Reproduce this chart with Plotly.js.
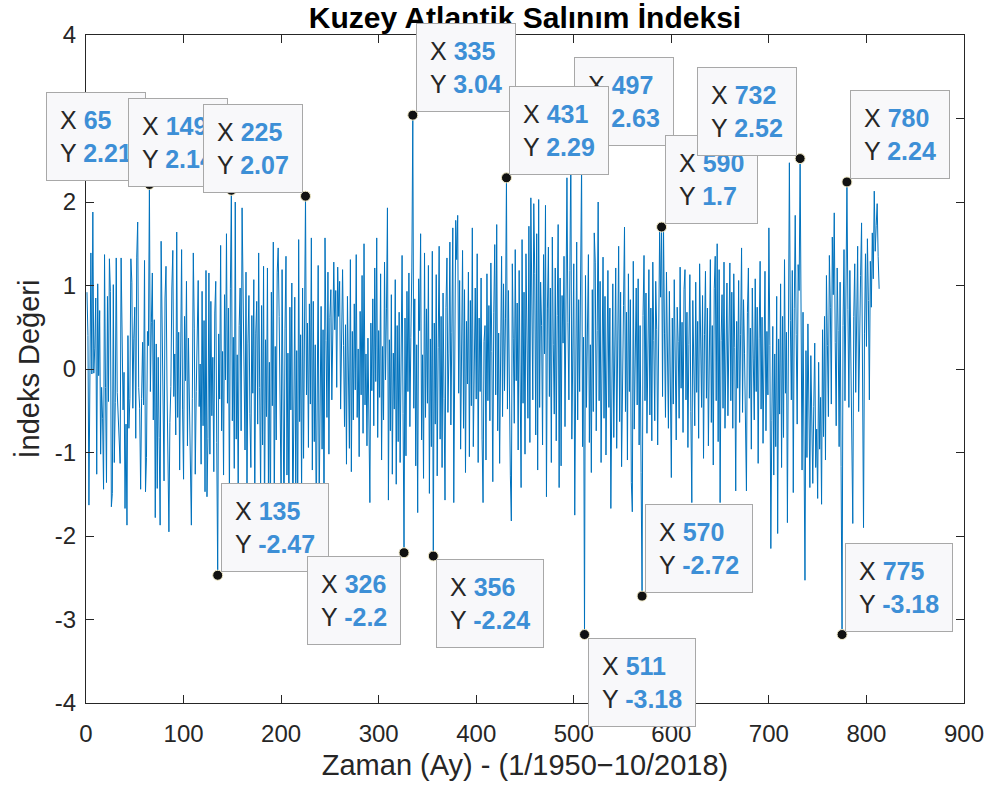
<!DOCTYPE html>
<html>
<head>
<meta charset="utf-8">
<script src="https://cdn.plot.ly/plotly-3.0.1.min.js"></script>
<style>
  html, body { margin: 0; padding: 0; background: #ffffff; }
  #chart { width: 990px; height: 791px; }
</style>
</head>
<body>
<div id="chart"></div>
<script>
// Monthly NAO index values (1/1950 - ...), read/
const naoIndex = [
  0.92, 0.40, -1.63, 0.73, 1.39, -0.06, 1.88, -0.05, 0.25, 0.85, -1.26, 1.02,
  -0.08, 0.70, -1.02, -0.22, -0.59, -1.44, 1.37, -0.22, -1.36, 0.87, -0.39, 1.32,
  0.93, -1.65, -1.49, 1.01, -1.12, -0.40, 1.33, -0.28, -0.54, -0.73, -1.13, 1.33,
  0.33, -0.49, -0.04, -1.67, -0.66, -1.87, 0.40, -0.71, -0.35, 1.32, 1.04, -0.47,
  0.37, 0.74, -0.83, 1.34, 1.76, -0.22, -0.47, -1.44, -0.35, 0.32, -0.43, 1.30,
  -1.47, -1.06, 0.45, 0.28, 2.21, -0.27, 0.56, 1.15, -0.61, 0.59, -1.78, 0.30,
  -1.43, 0.14, -0.82, -1.87, 1.53, 0.62, -0.97, -1.34, 0.85, 1.23, -0.18, -1.05,
  -1.95, -0.64, -0.21, 0.97, 1.42, -0.33, 0.18, -0.79, 1.64, -0.58, 0.44, -1.21,
  0.26, 1.43, -0.49, -1.32, 0.63, -0.14, 1.05, -0.92, 0.37, -0.61, -1.55, -1.87,
  -0.35, 1.39, 0.49, -1.26, -0.27, 0.72, 1.06, -0.45, 0.06, -1.14, 0.93, -0.68,
  0.58, -1.47, 1.18, -1.53, -0.83, 1.15, -1.02, 0.81, -0.56, 0.14, -1.23, 0.67,
  1.05, -0.88, -2.47, 0.42, -0.36, 1.48, -0.74, 0.21, -1.27, 0.89, -0.13, 1.62,
  -0.41, 0.73, -1.58, 0.96, 2.14, -0.62, 0.38, -1.19, 2.00, -0.84, 0.17, -1.43,
  0.52, 0.97, -0.74, 1.93, 0.89, 0.25, -0.97, 1.16, -1.62, 0.31, 0.88, -0.53,
  -1.18, 0.64, -0.29, 1.07, -1.75, 0.43, 0.81, -0.66, 1.39, -0.22, -1.49, 0.76,
  -0.91, 1.23, -1.88, 0.35, -0.57, 1.21, -1.37, 0.08, -1.96, 0.92, -0.44, 1.52,
  -1.69, 0.27, -0.85, 1.16, 1.45, 0.63, -0.18, -1.54, 1.19, -0.72, -1.93, 0.48,
  1.35, -1.27, 0.19, -1.86, 0.74, -0.49, 1.03, -1.98, -0.37, 0.86, -1.44, 0.22,
  -1.89, 1.55, -0.63, 0.41, -1.52, 0.97, -1.07, 1.46, 2.07, -0.31, 0.55, -0.94,
  0.78, -0.42, 1.57, -1.21, 0.81, -0.87, 0.29, -1.93, 0.58, 1.24, -1.63, 0.11,
  0.75, -0.96, 0.47, -1.89, 1.57, 0.34, -0.58, 1.16, -1.02, 0.62, 0.95, -0.37,
  0.81, 1.28, 0.47, 0.94, -0.22, 1.22, 0.63, 1.05, -0.48, 0.72, 1.19, 0.28,
  -0.69, 0.53, -1.14, 0.87, 0.12, -0.95, 1.31, -1.23, 0.45, -0.61, 0.78, -0.25,
  1.37, -0.58, 0.24, -1.05, 0.69, -0.31, 1.12, -0.77, 1.50, -0.43, 0.18, -0.92,
  0.37, -1.19, -1.60, 0.55, -0.26, 0.84, -0.68, 1.21, -0.15, 1.57, -0.82, 0.46,
  -0.34, 1.14, -1.09, 0.27, -0.61, 1.28, -0.13, 0.72, 1.93, -1.57, 0.35, -0.74,
  0.89, -1.26, 0.19, -0.48, 1.07, -1.38, 0.52, -0.87, 0.68, -1.12, 0.24, 1.36,
  -0.53, -2.20, 0.61, -1.04, 0.93, -0.27, 1.15, -0.69, 0.38, 1.21, 3.04, -0.47,
  0.84, -1.16, 0.29, -1.72, 1.08, 0.46, 1.62, -0.85, 0.17, -1.31, 1.39, -0.58,
  0.72, -0.41, 1.24, -1.49, 0.36, -0.93, 1.41, -2.24, 0.55, -0.66, 1.13, -1.28,
  0.26, 1.47, -0.84, 0.63, -1.18, 0.91, -0.35, -1.57, 0.74, 1.33, -0.52, 0.18,
  1.52, -0.67, 0.44, 1.69, -1.60, 0.87, 1.78, 1.31, 1.84, -0.29, 1.06, -0.96,
  0.38, 1.42, -0.71, 0.95, -1.24, 0.57, -0.18, 1.16, -1.05, 0.82, -0.44, 1.69,
  -0.93, 0.49, 0.97, -0.36, 1.38, -1.12, 0.61, -0.27, 1.09, -0.84, -1.60, 0.33,
  0.52, -1.09, 1.14, -0.38, 0.76, -0.62, 1.27, 0.21, -1.35, 0.68, 1.49, -0.31,
  1.73, -0.74, 0.43, -1.13, 0.86, 1.35, -0.57, 1.02, -0.26, 0.61, 2.29, -0.48,
  0.94, -0.83, -1.28, -1.82, 1.26, 0.37, -0.65, 1.43, -0.14, 0.79, -0.97, 1.18,
  0.08, -1.42, 1.55, -0.41, 0.92, -1.02, 1.38, 0.24, -0.59, 1.71, -0.88, 2.05,
  0.63, -0.37, 1.98, 1.14, -0.79, 1.62, -1.21, 2.03, -0.46, 1.04, 0.52, -0.91,
  1.37, 0.18, 1.96, -1.53, 0.73, 1.46, -0.33, 0.97, -1.12, 1.58, 0.29, -0.54,
  1.21, -0.86, 0.64, 1.73, -1.42, 1.09, -1.16, 0.88, 0.31, 1.35, -0.69, 0.47,
  2.29, 0.56, -0.37, 1.18, 2.63, -0.84, 0.72, 1.26, -1.75, 0.43, 1.52, -0.61,
  0.83, -0.27, 1.44, 2.45, -0.93, 0.38, -3.18, 1.12, -0.46, 0.74, 1.37, -0.88,
  0.29, -1.24, 0.95, -0.51, 1.63, 1.28, -0.74, 0.46, 2.00, -0.38, 1.05, -1.12,
  0.62, 1.34, -0.59, 0.87, -1.03, 0.21, 1.18, -0.46, 0.73, -1.67, 0.35, 1.02,
  -0.82, 0.54, 1.21, -0.95, 0.18, 1.47, -0.63, 0.92, -1.17, 0.39, 0.76, 1.70,
  -0.51, 0.68, -1.09, 1.14, -0.27, 0.83, -1.36, -1.71, 1.29, -0.72, 0.16, 0.97,
  -0.43, 1.08, -0.91, 0.52, -1.24, -2.72, 0.64, 1.36, -0.38, 0.91, -0.77, 0.25,
  1.19, -0.55, 0.73, -0.86, 1.28, 0.34, -0.62, 1.05, 0.47, -0.91, 1.12, 1.65,
  0.86, 1.70, -0.33, 1.68, 0.42, -0.58, 1.16, 0.27, -0.71, 0.93, -0.18, -1.30,
  0.61, -0.42, 1.07, 0.18, -0.85, 0.74, 0.33, -0.59, 1.22, -0.23, 0.56, -0.76,
  0.95, 1.19, -0.37, 0.68, -0.94, 0.29, 1.13, -0.51, -1.60, 0.82, 0.14, -0.68,
  1.04, -0.28, 0.57, -0.83, 1.26, 0.09, -0.46, 0.88, -1.07, 0.41, 1.17, -0.35,
  0.73, -0.92, 0.26, 1.31, -0.64, 0.52, -1.15, 0.96, 1.35, -0.38, 1.50, -0.87,
  1.19, -1.60, 0.34, 0.89, -0.47, 1.28, -0.71, 0.15, 1.03, -0.56, 0.42, 1.27,
  -0.38, 0.92, -0.71, 1.14, 0.26, -1.46, 0.57, -0.23, 1.06, -0.64, 0.41, 1.45,
  -0.52, 0.83, 0.19, -0.77, -1.46, 0.68, 1.21, -0.35, 0.49, -0.96, 0.97, 0.12,
  -0.61, 1.08, -0.27, 0.74, -1.13, 0.36, 1.29, -0.48, 0.62, -0.89, 0.23, 1.17,
  -0.74, 0.45, -0.31, 1.69, 0.28, -2.15, -0.62, 0.51, -1.27, 0.18, -0.93, 0.87,
  -1.97, 0.36, -0.54, 1.02, -1.18, 0.63, -0.82, 1.31, -0.29, 0.44, -1.84, 0.91,
  2.47, 0.58, -0.37, 1.18, -1.48, 0.72, 1.84, 0.41, -0.66, 1.25, 0.94, 2.52,
  0.37, -1.21, 0.68, -0.49, -2.53, 0.22, -1.06, 0.54, -0.78, -1.42, 0.16, -0.93,
  -1.37, -0.45, 0.31, -1.18, -0.72, -1.55, 0.08, -0.96, -0.34, -1.62, 0.47, -0.81,
  0.63, -1.09, 1.12, 0.28, -0.57, 1.36, 0.74, -0.42, 1.58, 0.89, 1.87, 0.32,
  -0.68, 1.21, 0.46, -0.93, 1.04, -1.17, -3.18, 0.52, 1.43, -0.38, 0.87, 2.24,
  0.71, -0.46, 1.18, 0.35, -0.82, -1.85, 0.63, 1.26, -0.28, 0.94, 1.47, -0.51,
  0.68, 1.12, 1.75, -0.64, -1.90, 0.43, 1.38, 0.27, 1.56, 0.82, -0.37, 1.29,
  0.74, 1.63, 1.08, 2.13, 1.41, 1.72, 1.98, 1.35, 0.96
];

// Month numbers of the marked data tips (drawing order: later ones on top)
const tipMonths = [65, 149, 225, 335, 497, 431, 590, 732, 780, 135, 326, 356, 511, 570, 775];

// Axis tick values and labels
const xTickValues = [0, 100, 200, 300, 400, 500, 600, 700, 800, 900];
const yTickValues = [-4, -3, -2, -1, 0, 1, 2, 3, 4];
const yTickLabels = ['-4', '-3', '-2', '-1', '0', '1', '2', '3', '4'];

// ---- presentation ----
const tipPlacement = {
  65: 'ul', 149: 'ul', 225: 'ul', 335: 'ur', 497: 'ur', 431: 'ur', 590: 'ur',
  732: 'ul', 780: 'ur', 135: 'ur', 326: 'll', 356: 'lr', 511: 'lr', 570: 'ur', 775: 'ur'
};

const months = naoIndex.map((v, i) => i + 1);
const tipY = tipMonths.map(m => naoIndex[m - 1]);

function fmt(v) { return String(Number(v.toFixed(2))); }

const FONT = 'Liberation Sans, Arial, Helvetica, sans-serif';
const AXC = '#262626';

const annotations = tipMonths.map((m, k) => {
  const p = tipPlacement[m];
  const up = p[0] === 'u';
  const right = p[1] === 'r';
  return {
    x: m, y: tipY[k], xref: 'x', yref: 'y',
    showarrow: false,
    xanchor: right ? 'left' : 'right',
    yanchor: up ? 'bottom' : 'top',
    xshift: right ? 3 : -3,
    yshift: up ? 3 : -3,
    align: 'left',
    text: '<span style="color:#262626">X</span> <b>' + m + '</b><br>' +
          '<span style="color:#262626">Y</span> <b>' + fmt(tipY[k]) + '</b>',
    font: { family: FONT, size: 25, color: '#3d8fd6' },
    bgcolor: '#f8f8fa',
    bordercolor: '#a8a8a8',
    borderwidth: 1,
    borderpad: 13
  };
});

const traces = [
  {
    x: months, y: naoIndex, type: 'scatter', mode: 'lines',
    line: { color: '#0072BD', width: 1 },
    hoverinfo: 'skip', showlegend: false
  },
  {
    x: tipMonths, y: tipY, type: 'scatter', mode: 'markers',
    marker: { color: '#111111', size: 10, line: { color: '#f3ecc8', width: 1 } },
    hoverinfo: 'skip', showlegend: false
  }
];

const axisCommon = {
  showline: true, linecolor: AXC, linewidth: 1, mirror: 'ticks',
  ticks: 'inside', ticklen: 8, tickwidth: 1, tickcolor: AXC,
  showgrid: false, zeroline: false,
  tickfont: { family: FONT, size: 24, color: AXC }
};

const layout = {
  width: 990, height: 791,
  paper_bgcolor: '#ffffff', plot_bgcolor: '#ffffff',
  margin: { l: 86, r: 26, t: 35, b: 88 },
  showlegend: false,
  title: {
    text: 'Kuzey Atlantik Salınım İndeksi',
    font: { family: FONT, size: 30, color: '#000000', weight: 'bold' },
    x: 0.5, xref: 'paper', xanchor: 'center',
    y: 1 - 17 / 791, yref: 'container', yanchor: 'middle'
  },
  xaxis: Object.assign({}, axisCommon, {
    range: [0, 900], tickvals: xTickValues, ticklabelstandoff: 9,
    title: { text: 'Zaman (Ay) - (1/1950−10/2018)', font: { family: FONT, size: 29, color: AXC }, standoff: 8 }
  }),
  yaxis: Object.assign({}, axisCommon, {
    range: [-4, 4], tickvals: yTickValues, ticktext: yTickLabels, ticklabelstandoff: 4,
    title: { text: 'İndeks Değeri', font: { family: FONT, size: 29, color: AXC }, standoff: 6 }
  }),
  annotations: annotations
};

Plotly.newPlot('chart', traces, layout, { staticPlot: true, displayModeBar: false });
</script>
</body>
</html>
